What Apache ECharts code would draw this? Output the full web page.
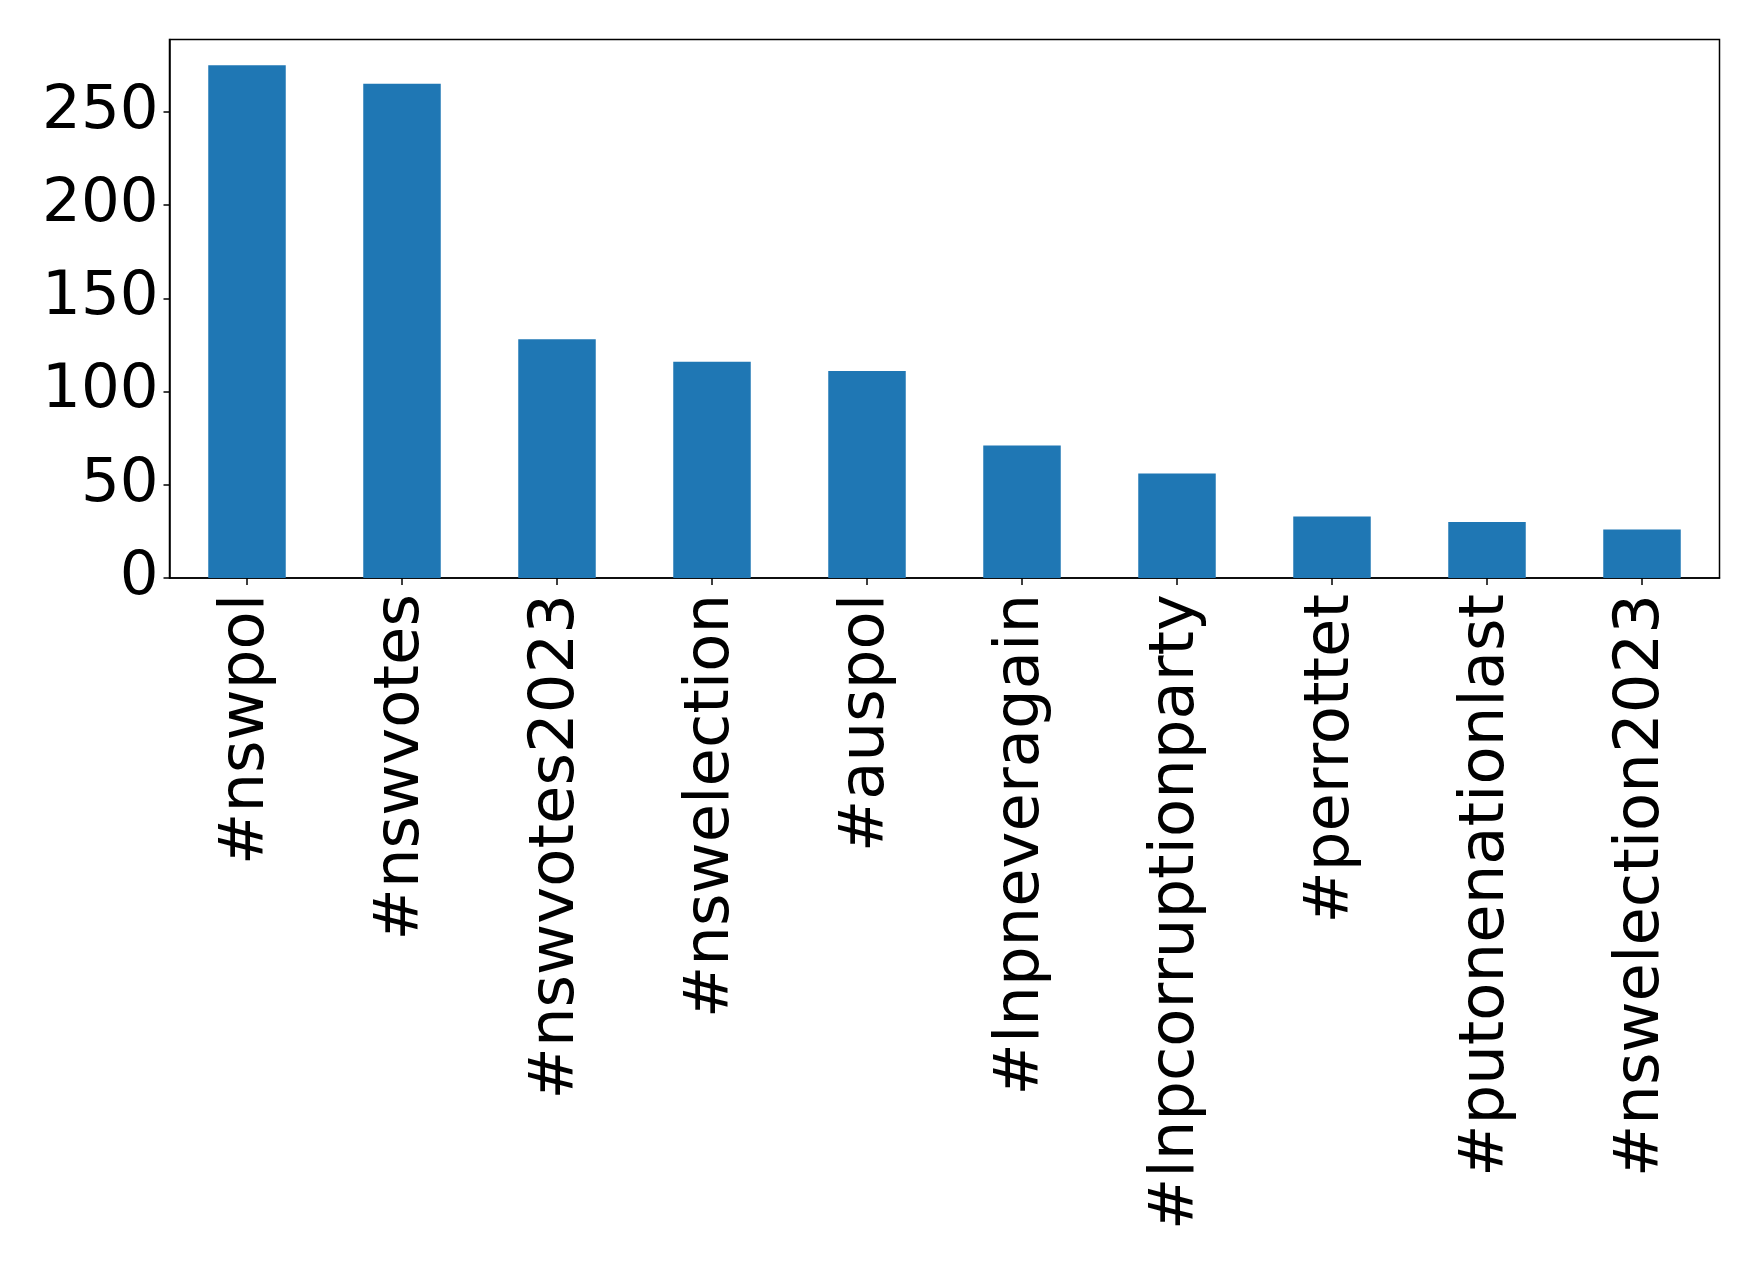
<!DOCTYPE html>
<html>
<head>
<meta charset="utf-8">
<script src="https://cdn.jsdelivr.net/npm/echarts@6/dist/echarts.min.js"></script>
<style>
html,body{margin:0;padding:0;background:#fff;}
#chart{width:1758px;height:1264px;}
</style>
</head>
<body>
<div id="chart"></div>
<script>
var categories = ['#nswpol', '#nswvotes', '#nswvotes2023', '#nswelection', '#auspol', '#lnpneveragain', '#lnpcorruptionparty', '#perrottet', '#putonenationlast', '#nswelection2023'];
var counts = [275, 265, 128, 116, 111, 71, 56, 33, 30, 26];
var yTicks = [0, 50, 100, 150, 200, 250];

var maxVal = Math.max.apply(null, counts);
var chart = echarts.init(document.getElementById('chart'), null, {renderer: 'canvas'});
var fontFamily = 'DejaVu Sans';
chart.setOption({
  animation: false,
  backgroundColor: '#ffffff',
  grid: {
    left: 169.5, top: 39.5, right: 38.5, bottom: 686,
    show: true, borderColor: '#000', borderWidth: 1.5, backgroundColor: 'transparent'
  },
  xAxis: {
    type: 'category',
    data: categories,
    boundaryGap: true,
    axisLine: {show: true, lineStyle: {color: '#000', width: 1.5}},
    axisTick: {show: true, alignWithLabel: true, length: 7, lineStyle: {color: '#000', width: 1.5}},
    axisLabel: {
      interval: 0, rotate: 90, margin: 16,
      color: '#000', fontSize: 62.5, fontFamily: fontFamily
    },
    splitLine: {show: false}
  },
  yAxis: {
    type: 'value',
    min: 0,
    max: maxVal * 1.05,
    interval: 50,
    axisLine: {show: true, lineStyle: {color: '#000', width: 1.5}},
    axisTick: {show: true, length: 6, lineStyle: {color: '#000', width: 1.5}},
    axisLabel: {
      showMaxLabel: false, margin: 11,
      color: '#000', fontSize: 61, fontFamily: fontFamily,
      formatter: function (v) { return yTicks.indexOf(v) >= 0 ? String(v) : ''; }
    },
    splitLine: {show: false}
  },
  series: [{
    type: 'bar',
    data: counts,
    barWidth: '50%',
    itemStyle: {color: '#1f77b4'}
  }]
});
</script>
</body>
</html>
